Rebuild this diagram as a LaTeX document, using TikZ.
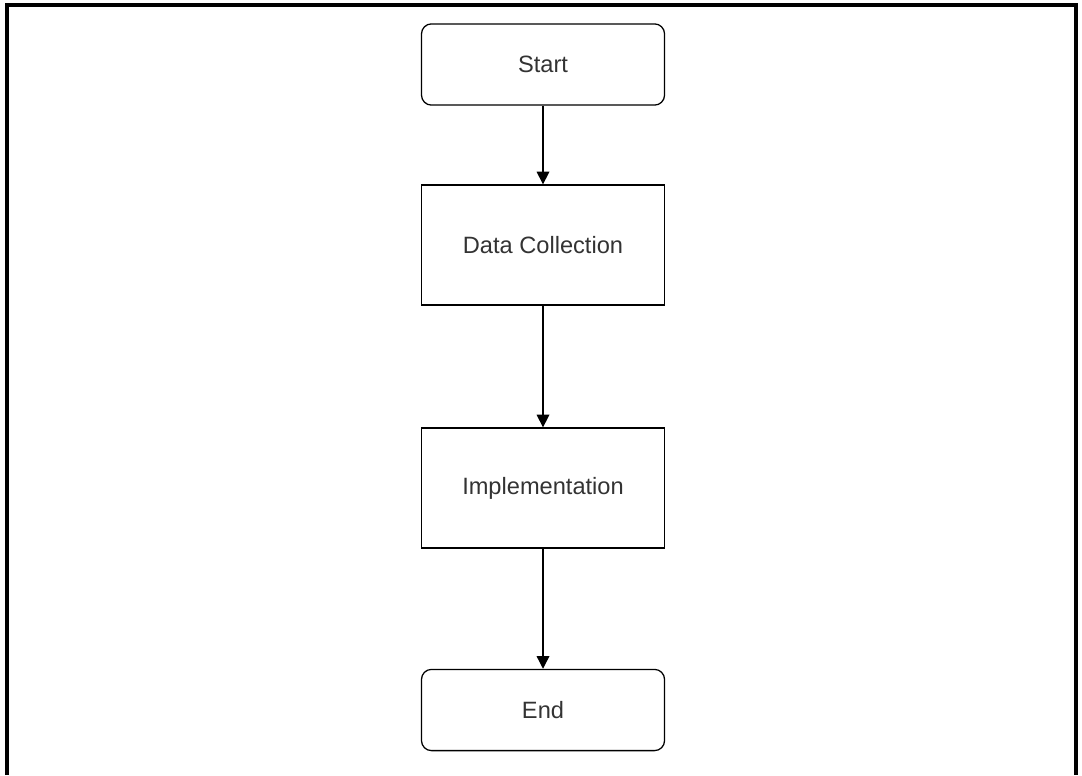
\documentclass[tikz,border=0pt]{standalone}
\usepackage{fontspec}
\setmainfont{Liberation Sans}
\usetikzlibrary{arrows.meta}
\definecolor{txtgray}{HTML}{333333}
\begin{document}
\begin{tikzpicture}[x=0.025cm,y=-0.025cm,>={Triangle[length=9pt,width=9pt]}]

\tikzset{%
every step/.style={
rectangle,
draw,
line width=0.9pt,
minimum width=6.075cm,
text=txtgray,
font=\fontsize{16.8}{20}\selectfont
},
step term/.style={
rounded corners=0.25cm,
minimum height=2.03cm
},
step task/.style={
minimum height=3cm
},
}

\useasboundingbox (0,0) rectangle (1082,775);

% Outer frame (bottom side lies below the page)
\draw [line width=2.2pt] (7,775) -- (7,5) -- (1076,5) -- (1076,775);

% Flow steps
\foreach \m/\t/\y in {term/Start/64.5, task/Data Collection/245, task/Implementation/488, term/End/710}
\node [every step/.try, step \m/.try] (step-\t) at (543,\y) {\t};

% Arrows between the steps
\foreach \a/\b in {Start/Data Collection, Data Collection/Implementation, Implementation/End}
\draw [->, line width=0.9pt] (step-\a) -- (step-\b);

\end{tikzpicture}
\end{document}
